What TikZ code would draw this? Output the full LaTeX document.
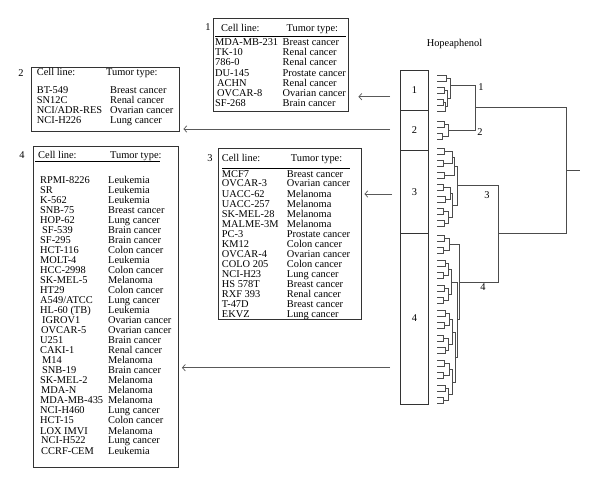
\documentclass[tikz,border=0pt]{standalone}
\usepackage{fontspec}
\setmainfont{Liberation Serif}
\usepackage{array}
\usetikzlibrary{arrows.meta}
\setlength{\arrayrulewidth}{0.7pt}
\newcommand{\dlink}[5]{\draw[dend] (#1,#2) -- (#5,#2) -- (#5,#4) -- (#3,#4);}

\begin{document}
\begin{tikzpicture}[x=1pt, y=-1pt,
                    frame/.style={draw=black!80, line width=0.8pt, inner sep=0pt},
                    tbl/.style={anchor=base west, inner sep=0pt},
                    colbox/.style={draw=black!80, line width=0.8pt, minimum width=28.5pt, inner sep=0pt},
                    dend/.style={black!70, line width=0.6pt},
                    pointer/.style={black!65, line width=0.7pt, -{Straight Barb[length=3pt,width=6.5pt]}},
                    tag/.style={inner sep=0pt}]
\fontsize{10.4}{10}\selectfont
\useasboundingbox (0,0) rectangle (600,489);

% the four tables
\node[frame, minimum width=135pt, minimum height=93pt] (b1) at (280.5,64.5) {};
\node[frame, minimum width=148pt, minimum height=64pt] (b2) at (105,99) {};
\node[frame, minimum width=143pt, minimum height=171pt] (b3) at (289.5,233.5) {};
\node[frame, minimum width=145pt, minimum height=321pt] (b4) at (105.5,306.5) {};

\node[tag] (l1) at (208,27) {1};
\node[tag] (l2) at (21,73) {2};
\node[tag] (l3) at (210,158) {3};
\node[tag] (l4) at (22,155) {4};

\node[tbl] (t1) at (215,31.5) {\fontsize{10.4}{10.2}\selectfont
\begin{tabular}[t]{@{}w{l}{67.5pt}@{}l@{}}
\hspace{6pt}Cell line: & \hspace{4pt}Tumor type:\\[1.2pt] \hline
\noalign{\vskip 1.8pt}
MDA-MB-231 & Breast cancer\\
TK-10 & Renal cancer\\
786-0 & Renal cancer\\
DU-145 & Prostate cancer\\
\hspace{2pt}ACHN & Renal cancer\\
\hspace{2pt}OVCAR-8 & Ovarian cancer\\
SF-268 & Brain cancer
\end{tabular}};

\node[tbl] (t2) at (36.7,75.8) {\fontsize{10.4}{10}\selectfont
\begin{tabular}[t]{@{}w{l}{73.3pt}@{}l@{}}
Cell line: & \hspace{-4pt}Tumor type:\\[7.7pt]
BT-549 & Breast cancer\\
SN12C & Renal cancer\\
NCI/ADR-RES & Ovarian cancer\\
NCI-H226 & Lung cancer
\end{tabular}};

\node[tbl] (t3) at (221.7,161.5) {\fontsize{10.4}{9.9}\selectfont
\begin{tabular}[t]{@{}w{l}{65pt}@{}l@{}}
Cell line: & \hspace{4pt}Tumor type:\\[3.5pt] \hline
\noalign{\vskip 1.5pt}
MCF7 & Breast cancer\\
OVCAR-3 & Ovarian cancer\\
UACC-62 & Melanoma\\
UACC-257 & Melanoma\\
SK-MEL-28 & Melanoma\\
MALME-3M & Melanoma\\
PC-3 & Prostate cancer\\
KM12 & Colon cancer\\
OVCAR-4 & Ovarian cancer\\
COLO 205 & Colon cancer\\
NCI-H23 & Lung cancer\\
HS 578T & Breast cancer\\
RXF 393 & Renal cancer\\
T-47D & Breast cancer\\
EKVZ & Lung cancer
\end{tabular}};

\node[tbl] (t4) at (40,158.5) {\fontsize{10.4}{9.82}\selectfont
\begin{tabular}[t]{@{}w{l}{68pt}@{}l@{}}
\rlap{\hspace{-5pt}\rule[-3.6pt]{125pt}{0.7pt}}\hspace{-2pt}Cell line: & \hspace{2pt}Tumor type:\\[14.7pt]
RPMI-8226 & Leukemia\\
SR & Leukemia\\
K-562 & Leukemia\\
SNB-75 & Breast cancer\\
HOP-62 & Lung cancer\\
\hspace{2pt}SF-539 & Brain cancer\\
SF-295 & Brain cancer\\
HCT-116 & Colon cancer\\
MOLT-4 & Leukemia\\
HCC-2998 & Colon cancer\\
SK-MEL-5 & Melanoma\\
HT29 & Colon cancer\\
A549/ATCC & Lung cancer\\
HL-60 (TB) & Leukemia\\
\hspace{2pt}IGROV1 & Ovarian cancer\\
\hspace{1pt}OVCAR-5 & Ovarian cancer\\
U251 & Brain cancer\\
CAKI-1 & Renal cancer\\
\hspace{2pt}M14 & Melanoma\\
\hspace{2pt}SNB-19 & Brain cancer\\
SK-MEL-2 & Melanoma\\
\hspace{1pt}MDA-N & Melanoma\\
MDA-MB-435 & Melanoma\\
NCI-H460 & Lung cancer\\
HCT-15 & Colon cancer\\
LOX IMVI & Melanoma\\
\hspace{1pt}NCI-H522 & Lung cancer\\
\hspace{1pt}CCRF-CEM & Leukemia
\end{tabular}};

% cluster column
\node[tag] (hp) at (454.5,44) {Hopeaphenol};
\node[colbox, minimum height=40pt] (k1) at (414.5,90.3) {1};
\node[colbox, minimum height=40pt] (k2) at (414.5,130.3) {2};
\node[colbox, minimum height=83pt] (k3) at (414.5,191.7) {\raisebox{-5pt}{3}};
\node[colbox, minimum height=171pt] (k4) at (414.5,318.5) {4};

% dendrogram
\foreach \xa/\ya/\xb/\yb/\xm in {
    437/75/437/81/446, 437/87/437/93/444, 437/99/437/105/443, 443/102/437/111/445,
    444/90/445/106.5/447, 446/78/447/98.25/450,
    437/121/437/127/444, 437/133/437/139/442, 444/124/442/136/448,
    437/148/437/154/444, 437/160/437/166/443, 437/172/437/178/444, 437/184/437/190/443,
    437/196/437/202/445, 437/208/437/214/443, 437/220/437/226/444,
    444/151/443/163/452, 452/157/444/175/454, 443/187/445/199/450, 443/211/444/223/448,
    450/193/448/217/452, 454/166/452/205/457,
    437/235/437/241.25/444, 437/247.5/437/253.75/443, 437/260/437/266.25/445,
    437/272.5/437/278.75/443, 437/285/437/291.25/444, 437/297.5/437/303.75/443,
    437/310/437/316.25/445, 437/322.5/437/328.75/444, 437/335/437/341.25/443,
    437/347.5/437/353.75/445, 437/360/437/366.25/444, 437/372.5/437/378.75/443,
    437/385/437/391.25/445, 437/397.5/437/403.75/443,
    444/238.125/443/250.625/449, 445/263.125/443/275.625/448, 444/288.125/443/300.625/448,
    448/269.375/448/294.375/451, 445/313.125/444/325.625/449, 443/338.125/445/350.625/448,
    444/363.125/443/375.625/449, 445/388.125/443/400.625/448,
    449/319.375/448/344.375/452, 449/369.375/448/394.375/452, 452/331.875/452/381.875/455,
    451/281.875/455/356.875/457, 449/244.375/457/319.375/459,
    450/85/448/130/475, 457/185.5/459/281.875/498, 475/107.5/498/233.69/566}
  {\dlink{\xa}{\ya}{\xb}{\yb}{\xm}}
\draw[dend] (566,170.6) -- (580,170.6);

\node[tag] (d1) at (481,87) {1};
\node[tag] (d2) at (480,132) {2};
\node[tag] (d3) at (487,195) {3};
\node[tag] (d4) at (483,287) {4};

% pointers to the tables
\coordinate (s1) at (390,96.7);
\coordinate (s2) at (390,129);
\coordinate (s3) at (392,194);
\coordinate (s4) at (390,367.7);
\draw[pointer, shorten >=10pt] (s1) -- (b1.east |- s1);
\draw[pointer, shorten >=4pt] (s2) -- (b2.east |- s2);
\draw[pointer, shorten >=3pt] (s3) -- (b3.east |- s3);
\draw[pointer, shorten >=3.5pt] (s4) -- (b4.east |- s4);
\end{tikzpicture}
\end{document}
